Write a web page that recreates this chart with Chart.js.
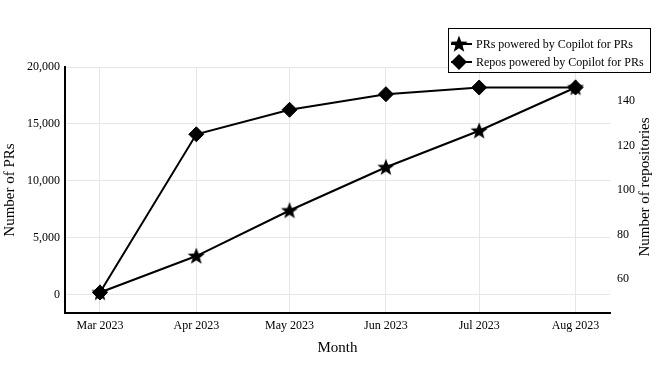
<!DOCTYPE html>
<html>
<head>
<meta charset="utf-8">
<script src="https://cdn.jsdelivr.net/npm/chart.js@4/dist/chart.umd.min.js"></script>
<style>
  html, body { margin: 0; padding: 0; background: #ffffff; }
  #wrap { width: 664px; height: 366px; }
</style>
</head>
<body>
<div id="wrap"><canvas id="c" width="664" height="366"></canvas></div>
<script>
// ---- data ----
const monthDates = ['2023-03-01', '2023-04-01', '2023-05-01', '2023-06-01', '2023-07-01', '2023-08-01'];
const monthLabels = ['Mar 2023', 'Apr 2023', 'May 2023', 'Jun 2023', 'Jul 2023', 'Aug 2023'];
const prsValues = [200, 3400, 7400, 11200, 14400, 18200];
const reposValues = [54, 125, 136, 143, 146, 146];
const leftTicks = [0, 5000, 10000, 15000, 20000];
const rightTicks = [60, 80, 100, 120, 140];
const prsLabel = 'PRs powered by Copilot for PRs';
const reposLabel = 'Repos powered by Copilot for PRs';

// ---- helpers ----
const DAY = 86400000;
const t0 = Date.parse(monthDates[0]);
const dayOffsets = monthDates.map(d => (Date.parse(d) - t0) / DAY);
const span = dayOffsets[dayOffsets.length - 1] - dayOffsets[0];

const FONT = "'Liberation Serif', 'DejaVu Serif', serif";

function makeStar(R, ratio) {
  const size = Math.ceil(2 * R + 2);
  const cv = document.createElement('canvas');
  cv.width = size; cv.height = size;
  const g = cv.getContext('2d');
  const cx = size / 2, cy = size / 2 + R * 0.06;
  g.beginPath();
  for (let i = 0; i < 10; i++) {
    const r = i % 2 === 0 ? R : R * ratio;
    const a = -Math.PI / 2 + i * Math.PI / 5;
    const x = cx + r * Math.cos(a), y = cy + r * Math.sin(a);
    if (i === 0) g.moveTo(x, y); else g.lineTo(x, y);
  }
  g.closePath();
  g.fillStyle = '#000';
  g.fill();
  return cv;
}
const starImg = makeStar(9, 0.42);

const overlayPlugin = {
  id: 'overlay',
  afterDraw(chart) {
    const ctx = chart.ctx;
    const area = chart.chartArea;
    ctx.save();
    // right axis title (reads bottom to top)
    ctx.fillStyle = '#000';
    ctx.font = '15px ' + FONT;
    ctx.textAlign = 'center';
    ctx.textBaseline = 'middle';
    ctx.translate(645, (area.top + area.bottom) / 2 - 3);
    ctx.rotate(-Math.PI / 2);
    ctx.fillText('Number of repositories', 0, 0);
    ctx.restore();

    // legend box
    ctx.save();
    const bx = 448, by = 28, bw = 202, bh = 44;
    ctx.fillStyle = '#fff';
    ctx.fillRect(bx, by, bw, bh);
    ctx.strokeStyle = '#000';
    ctx.lineWidth = 1;
    ctx.strokeRect(bx + 0.5, by + 0.5, bw, bh);
    const rows = [
      { y: by + 16, label: chart.data.datasets[0].label, kind: 'star' },
      { y: by + 34, label: chart.data.datasets[1].label, kind: 'diamond' }
    ];
    rows.forEach(r => {
      ctx.strokeStyle = '#000';
      ctx.lineWidth = 2;
      ctx.beginPath();
      ctx.moveTo(bx + 3, r.y);
      ctx.lineTo(bx + 24, r.y);
      ctx.stroke();
      const mx = bx + 11;
      if (r.kind === 'star') {
        ctx.drawImage(starImg, mx - starImg.width / 2, r.y - starImg.height / 2);
      } else {
        const d = 8;
        ctx.fillStyle = '#000';
        ctx.beginPath();
        ctx.moveTo(mx - d, r.y); ctx.lineTo(mx, r.y - d);
        ctx.lineTo(mx + d, r.y); ctx.lineTo(mx, r.y + d);
        ctx.closePath();
        ctx.fill();
      }
      ctx.fillStyle = '#000';
      ctx.font = '12px ' + FONT;
      ctx.textAlign = 'left';
      ctx.textBaseline = 'middle';
      ctx.fillText(r.label, bx + 28, r.y + 0.5);
    });
    ctx.restore();
  }
};

new Chart(document.getElementById('c'), {
  type: 'line',
  data: {
    datasets: [
      {
        label: prsLabel,
        data: dayOffsets.map((x, i) => ({ x: x, y: prsValues[i] })),
        yAxisID: 'y',
        borderColor: '#000',
        backgroundColor: '#000',
        borderWidth: 2,
        pointStyle: starImg,
        pointRadius: 9,
        tension: 0,
        order: 1
      },
      {
        label: reposLabel,
        data: dayOffsets.map((x, i) => ({ x: x, y: reposValues[i] })),
        yAxisID: 'y1',
        borderColor: '#000',
        backgroundColor: '#000',
        borderWidth: 2,
        pointStyle: 'rectRot',
        pointRadius: 7.5,
        pointBorderWidth: 1,
        pointBorderColor: '#000',
        pointBackgroundColor: '#000',
        tension: 0,
        order: 2
      }
    ]
  },
  options: {
    responsive: false,
    animation: false,
    devicePixelRatio: 1,
    layout: { padding: { top: 67, left: 0, right: 0, bottom: 0 } },
    plugins: { legend: { display: false }, tooltip: { enabled: false } },
    scales: {
      x: {
        type: 'linear',
        min: dayOffsets[0] - span * 0.0735,
        max: dayOffsets[dayOffsets.length - 1] + span * 0.0725,
        afterBuildTicks: s => { s.ticks = dayOffsets.map(v => ({ value: v })); },
        afterFit: s => { s.height = 53; },
        ticks: {
          autoSkip: false,
          maxRotation: 0,
          padding: 6,
          color: '#000',
          font: { family: FONT, size: 12 },
          callback: (v, i) => monthLabels[i]
        },
        grid: { color: '#e6e6e6', lineWidth: 1, drawTicks: false },
        border: { display: true, color: '#000', width: 2 },
        title: { display: true, text: 'Month', color: '#000', font: { family: FONT, size: 15 }, padding: { top: 0, bottom: 9 } }
      },
      y: {
        type: 'linear',
        position: 'left',
        min: -1600,
        max: 20000,
        afterBuildTicks: s => { s.ticks = leftTicks.map(v => ({ value: v })); },
        afterFit: s => { s.width = 65; },
        ticks: {
          padding: 5,
          color: '#000',
          font: { family: FONT, size: 12 },
          callback: v => Number(v).toLocaleString('en-US')
        },
        grid: { color: '#e6e6e6', lineWidth: 1, drawTicks: false },
        border: { display: true, color: '#000', width: 2 },
        title: { display: true, text: 'Number of PRs', color: '#000', font: { family: FONT, size: 15 }, padding: { top: 1.5, bottom: 0 } }
      },
      y1: {
        type: 'linear',
        position: 'right',
        min: 44.8,
        max: 155.2,
        afterBuildTicks: s => { s.ticks = rightTicks.map(v => ({ value: v })); },
        afterFit: s => { s.width = 54; },
        ticks: {
          padding: 7,
          color: '#000',
          font: { family: FONT, size: 12 }
        },
        grid: { display: false, drawTicks: false },
        border: { display: false }
      }
    }
  },
  plugins: [overlayPlugin]
});
</script>
</body>
</html>
